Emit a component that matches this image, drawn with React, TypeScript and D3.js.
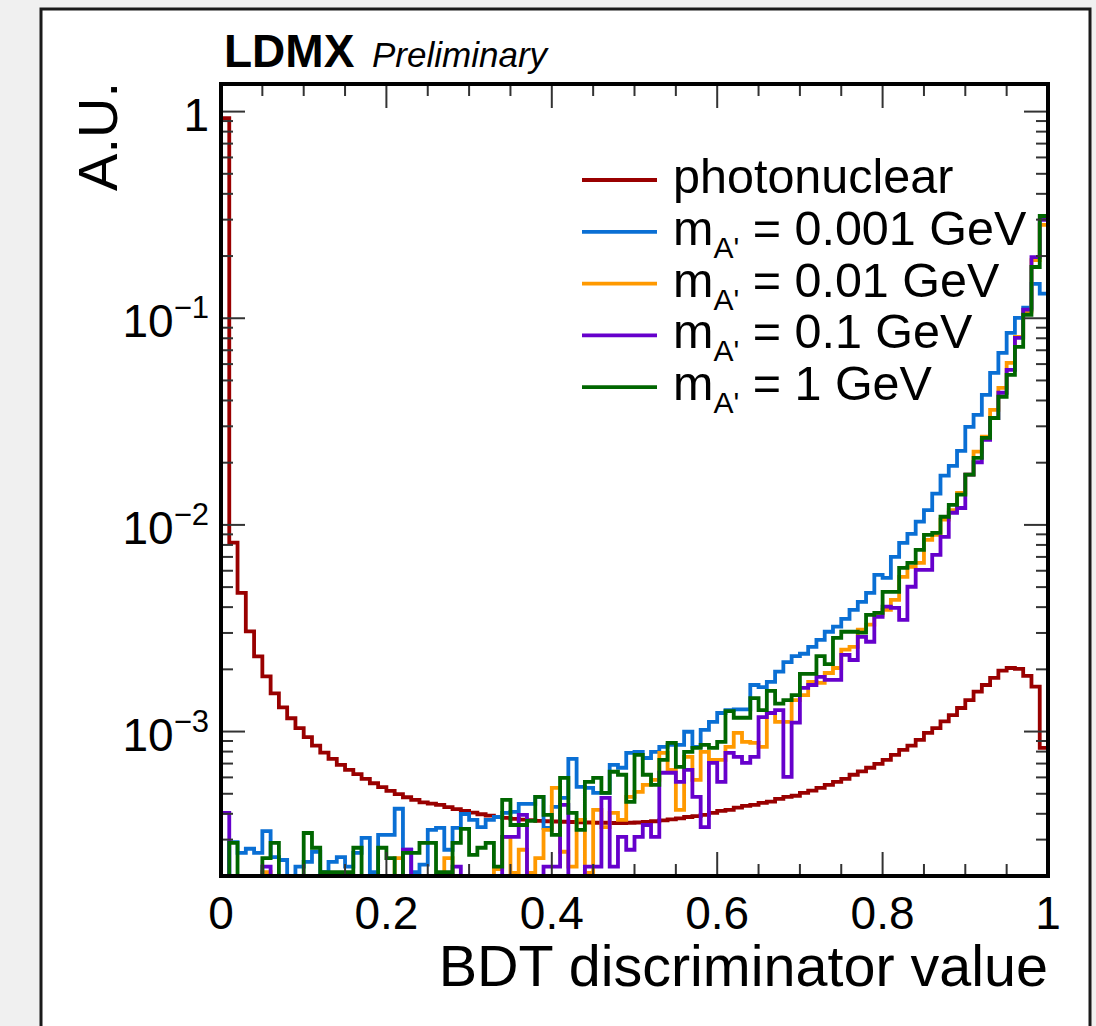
import React from 'react';
import * as d3 from 'd3';

// ---------- data ----------
const binRange: [number, number] = [0, 1];
const nBins = 100;

const photonuclear = [
  0.93, 8.2e-3, 4.69e-3, 3.05e-3, 2.31e-3, 1.85e-3, 1.53e-3, 1.31e-3, 1.16e-3, 1.04e-3,
  9.4e-4, 8.55e-4, 7.91e-4, 7.37e-4, 6.9e-4, 6.53e-4, 6.22e-4, 5.9e-4, 5.62e-4, 5.38e-4,
  5.16e-4, 4.98e-4, 4.81e-4, 4.67e-4, 4.54e-4, 4.48e-4, 4.42e-4, 4.31e-4, 4.21e-4, 4.13e-4,
  4.05e-4, 3.98e-4, 3.92e-4, 3.86e-4, 3.82e-4, 3.78e-4, 3.75e-4, 3.73e-4, 3.7e-4, 3.68e-4,
  3.67e-4, 3.66e-4, 3.65e-4, 3.64e-4, 3.63e-4, 3.62e-4, 3.62e-4, 3.61e-4, 3.61e-4, 3.62e-4,
  3.63e-4, 3.65e-4, 3.68e-4, 3.72e-4, 3.76e-4, 3.8e-4, 3.86e-4, 3.9e-4, 3.95e-4, 4.04e-4,
  4.13e-4, 4.18e-4, 4.28e-4, 4.37e-4, 4.42e-4, 4.52e-4, 4.58e-4, 4.72e-4, 4.83e-4, 4.89e-4,
  5.05e-4, 5.18e-4, 5.34e-4, 5.52e-4, 5.71e-4, 5.9e-4, 6.18e-4, 6.41e-4, 6.68e-4, 6.98e-4,
  7.29e-4, 7.71e-4, 8.15e-4, 8.55e-4, 9.11e-4, 9.85e-4, 1.04e-3, 1.12e-3, 1.2e-3, 1.3e-3,
  1.42e-3, 1.56e-3, 1.68e-3, 1.82e-3, 1.97e-3, 2.03e-3, 2.01e-3, 1.86e-3, 1.65e-3, 8.34e-4,
];

const mA0001 = [
  0, 2.92e-4, 2.59e-4, 2.71e-4, 2.59e-4, 3.3e-4, 2.47e-4, 2.39e-4, 0, 2.22e-4,
  2.34e-4, 2.62e-4, 2.09e-4, 2.34e-4, 2.47e-4, 2.22e-4, 2.59e-4, 3.06e-4, 2.09e-4, 3.16e-4,
  3.16e-4, 4.23e-4, 2.68e-4, 2.09e-4, 2.27e-4, 3.34e-4, 3.42e-4, 2.68e-4, 3.42e-4, 3.99e-4,
  3.74e-4, 3.45e-4, 3.74e-4, 3.86e-4, 4.04e-4, 4.09e-4, 4.47e-4, 4.47e-4, 4.83e-4, 3.42e-4,
  4.32e-4, 4.78e-4, 7.37e-4, 5.4e-4, 5.34e-4, 5.05e-4, 5.05e-4, 6.9e-4, 6.68e-4, 7.88e-4,
  7.97e-4, 7.45e-4, 7.97e-4, 8.43e-4, 8.62e-4, 8.62e-4, 9.98e-4, 8.43e-4, 1.02e-3, 1.115e-3,
  1.23e-3, 1.27e-3, 1.28e-3, 1.28e-3, 1.68e-3, 1.64e-3, 1.74e-3, 1.95e-3, 2.17e-3, 2.32e-3,
  2.38e-3, 2.57e-3, 2.78e-3, 3.04e-3, 3.22e-3, 3.51e-3, 3.88e-3, 4.24e-3, 4.69e-3, 5.73e-3,
  5.54e-3, 7.0e-3, 8.19e-3, 9.05e-3, 1.037e-2, 1.18e-2, 1.416e-2, 1.73e-2, 1.93e-2, 2.28e-2,
  2.98e-2, 3.41e-2, 4.26e-2, 5.44e-2, 6.8e-2, 8.5e-2, 0.1004, 0.1125, 0.1466, 0.1315,
];

const mA001 = [
  0, 0, 0, 0, 0, 2.09e-4, 0, 0, 0, 0,
  0, 0, 0, 0, 0, 0, 0, 0, 0, 0,
  0, 2.44e-4, 0, 0, 0, 0, 0, 2.44e-4, 0, 0,
  0, 0, 0, 2.16e-4, 3.09e-4, 2.07e-4, 2.68e-4, 2.07e-4, 2.44e-4, 3.34e-4,
  5.34e-4, 2.62e-4, 2.22e-4, 3.74e-4, 2.07e-4, 4.18e-4, 3.45e-4, 4.04e-4, 3.74e-4, 4.83e-4,
  5.11e-4, 5.52e-4, 5.84e-4, 7.88e-4, 6.53e-4, 4.18e-4, 7.54e-4, 5.84e-4, 7.97e-4, 7.29e-4,
  7.29e-4, 8.43e-4, 9.86e-4, 8.91e-4, 8.81e-4, 8.43e-4, 1.23e-3, 1.115e-3, 1.115e-3, 1.42e-3,
  1.5e-3, 1.74e-3, 1.72e-3, 1.92e-3, 2.03e-3, 2.49e-3, 2.57e-3, 3.11e-3, 3.29e-3, 3.67e-3,
  3.88e-3, 4.34e-3, 5.6e-3, 6.27e-3, 6.55e-3, 8.46e-3, 8.95e-3, 1.06e-2, 1.18e-2, 1.43e-2,
  1.75e-2, 2.26e-2, 2.67e-2, 3.6e-2, 4.6e-2, 6.08e-2, 8.13e-2, 0.1076, 0.191, 0.283,
];

const mA01 = [
  4.04e-4, 0, 0, 0, 0, 2.22e-4, 0, 0, 0, 0,
  0, 0, 0, 0, 0, 0, 0, 0, 0, 0,
  0, 0, 2.68e-4, 0, 0, 0, 0, 0, 2.22e-4, 0,
  0, 0, 0, 0, 3.09e-4, 3.09e-4, 3.95e-4, 0, 0, 2.22e-4,
  2.22e-4, 4.42e-4, 0, 0, 2.22e-4, 2.22e-4, 4.78e-4, 2.22e-4, 3.09e-4, 2.68e-4,
  3.09e-4, 3.53e-4, 3.09e-4, 6.32e-4, 6.32e-4, 5.71e-4, 6.53e-4, 4.83e-4, 3.45e-4, 7.06e-4,
  5.71e-4, 7.88e-4, 7.54e-4, 7.06e-4, 7.54e-4, 1.174e-3, 1.23e-3, 1.27e-3, 6.04e-4, 1.104e-3,
  1.626e-3, 1.68e-3, 1.84e-3, 1.78e-3, 1.78e-3, 2.35e-3, 2.22e-3, 2.875e-3, 2.72e-3, 3.59e-3,
  4.02e-3, 3.97e-3, 3.47e-3, 5.02e-3, 6.06e-3, 6.06e-3, 7.16e-3, 8.75e-3, 1.145e-2, 1.207e-2,
  1.75e-2, 2.01e-2, 2.58e-2, 3.29e-2, 4.36e-2, 5.62e-2, 8.04e-2, 0.11, 0.1976, 0.299,
];

const mA1 = [
  0, 2.89e-4, 0, 0, 0, 2.44e-4, 2.89e-4, 0, 0, 0,
  3.23e-4, 2.74e-4, 2.09e-4, 2.09e-4, 2.09e-4, 2.09e-4, 2.74e-4, 0, 0, 2.74e-4,
  2.44e-4, 0, 2.59e-4, 2.59e-4, 2.89e-4, 2.89e-4, 2.09e-4, 2.09e-4, 2.89e-4, 3.38e-4,
  2.53e-4, 2.74e-4, 2.89e-4, 2.22e-4, 4.67e-4, 3.53e-4, 3.53e-4, 3.7e-4, 4.83e-4, 3.95e-4,
  3.16e-4, 5.97e-4, 4.04e-4, 3.34e-4, 5.71e-4, 5.97e-4, 5.05e-4, 6.39e-4, 6.18e-4, 4.57e-4,
  7.71e-4, 6.18e-4, 5.52e-4, 7.29e-4, 8.81e-4, 6.75e-4, 7.97e-4, 8.33e-4, 8.62e-4, 8.33e-4,
  8.91e-4, 1.256e-3, 1.166e-3, 1.166e-3, 1.452e-3, 1.27e-3, 1.572e-3, 1.365e-3, 1.42e-3, 1.5e-3,
  1.9e-3, 1.9e-3, 2.32e-3, 2.12e-3, 2.84e-3, 3.04e-3, 3.04e-3, 3.01e-3, 3.67e-3, 3.75e-3,
  4.74e-3, 4.74e-3, 6.2e-3, 6.55e-3, 7.57e-3, 8.95e-3, 9.15e-3, 1.095e-2, 1.25e-2, 1.4e-2,
  1.75e-2, 2.11e-2, 2.64e-2, 3.29e-2, 4.17e-2, 5.32e-2, 7.27e-2, 0.104, 0.177, 0.3125,
];

const seriesNames = ['photonuclear', 'mA0001', 'mA001', 'mA01', 'mA1'];
const seriesMasses = ['', '0.001', '0.01', '0.1', '1'];
const seriesColors = ['#990000', '#0a6fd4', '#ff9900', '#6600cc', '#006600'];
const seriesValues = [photonuclear, mA0001, mA001, mA01, mA1];

const xTickValues = [0, 0.2, 0.4, 0.6, 0.8, 1];
const xTickLabels = ['0', '0.2', '0.4', '0.6', '0.8', '1'];
const yTickValues = [1, 0.1, 0.01, 0.001];
const yTickExponents = ['', '\u22121', '\u22122', '\u22123'];
const yDomain: [number, number] = [2e-4, 1.36];

const FONT = "'Liberation Sans', Arial, Helvetica, sans-serif";

export default function App() {
  const W = 1096, H = 1026;
  const left = 221, right = 1048, top = 84, bottom = 876;

  const x = d3.scaleLinear().domain(binRange).range([left, right]);
  const y = d3.scaleLog().domain(yDomain).range([bottom, top]);
  const binW = (binRange[1] - binRange[0]) / nBins;

  const histPath = (vals: number[]) => {
    const p = d3.path();
    const yv = (v: number) => y(Math.max(v, yDomain[0]));
    p.moveTo(x(binRange[0]), y(yDomain[0]));
    vals.forEach((v, i) => {
      const x0 = x(binRange[0] + i * binW);
      const x1 = x(binRange[0] + (i + 1) * binW);
      p.lineTo(x0, yv(v));
      p.lineTo(x1, yv(v));
    });
    p.lineTo(x(binRange[1]), y(yDomain[0]));
    return p.toString();
  };

  // minor ticks
  const xMinor = d3.range(0, 21).map((i) => i * 0.05).filter((v) => Math.abs(v * 5 - Math.round(v * 5)) > 1e-6);
  const yMinor: number[] = [];
  for (let e = -4; e <= 0; e++) {
    for (let k = 2; k <= 9; k++) {
      const v = k * Math.pow(10, e);
      if (v >= yDomain[0] && v <= yDomain[1]) yMinor.push(v);
    }
  }
  const majLen = 24, minLen = 12;
  const tickStroke = '#333';

  const legendX0 = 582, legendX1 = 657, legendTextX = 673, legendY0 = 180, legendDY = 51.8;

  return (
    <svg width={W} height={H} style={{ position: 'absolute', left: 0, top: 0, background: '#f0f0f0' }} fontFamily={FONT}>
      <rect x={0} y={0} width={W} height={H} fill="#f0f0f0" />
      <rect x={41} y={9} width={1049} height={1040} fill="#ffffff" stroke="#1a1a1a" strokeWidth={3} />

      <defs>
        <clipPath id="plotclip">
          <rect x={left} y={top} width={right - left} height={bottom - top + 2} />
        </clipPath>
      </defs>

      {/* histograms */}
      <g clipPath="url(#plotclip)" fill="none" strokeWidth={3.8} strokeLinejoin="miter">
        {seriesValues.map((vals, i) => (
          <path key={seriesNames[i]} d={histPath(vals)} stroke={seriesColors[i]} />
        ))}
      </g>

      {/* ticks */}
      <g stroke={tickStroke} strokeWidth={2}>
        {xTickValues.map((v) => (
          <g key={'xM' + v}>
            <line x1={x(v)} x2={x(v)} y1={bottom} y2={bottom - majLen} />
            <line x1={x(v)} x2={x(v)} y1={top} y2={top + majLen} />
          </g>
        ))}
        {xMinor.map((v) => (
          <g key={'xm' + v}>
            <line x1={x(v)} x2={x(v)} y1={bottom} y2={bottom - minLen} />
            <line x1={x(v)} x2={x(v)} y1={top} y2={top + minLen} />
          </g>
        ))}
        {yTickValues.map((v) => (
          <g key={'yM' + v}>
            <line x1={left} x2={left + majLen} y1={y(v)} y2={y(v)} />
            <line x1={right} x2={right - majLen} y1={y(v)} y2={y(v)} />
          </g>
        ))}
        {yMinor.map((v) => (
          <g key={'ym' + v}>
            <line x1={left} x2={left + minLen} y1={y(v)} y2={y(v)} />
            <line x1={right} x2={right - minLen} y1={y(v)} y2={y(v)} />
          </g>
        ))}
      </g>

      {/* frame */}
      <rect x={left} y={top} width={right - left} height={bottom - top} fill="none" stroke="#000" strokeWidth={4} />

      {/* x tick labels */}
      {xTickValues.map((v, i) => (
        <text key={'xl' + v} x={x(v)} y={929} fontSize={46} textAnchor="middle" fill="#000">
          {xTickLabels[i]}
        </text>
      ))}

      {/* y tick labels */}
      {yTickValues.map((v, i) => (
        <text key={'yl' + v} x={209} y={y(v) + 19} fontSize={46} textAnchor="end" fill="#000" style={{ whiteSpace: 'pre' }}>
          {yTickExponents[i] === '' ? (
            '1'
          ) : (
            <>
              <tspan>10</tspan>
              <tspan fontSize={31} dy={-19}>{yTickExponents[i]}</tspan>
            </>
          )}
        </text>
      ))}

      {/* axis titles */}
      <text x={right} y={986} fontSize={57.5} textAnchor="end" fill="#000">BDT discriminator value</text>
      <text transform="translate(117,82) rotate(-90)" fontSize={56} textAnchor="end" fill="#000">A.U.</text>

      {/* header */}
      <text x={224} y={67} fontSize={46} fontWeight="bold" fill="#000">LDMX</text>
      <text x={372} y={67} fontSize={35} fontStyle="italic" fill="#000">Preliminary</text>

      {/* legend */}
      {seriesNames.map((name, i) => {
        const ly = legendY0 + i * legendDY;
        return (
          <g key={'leg' + name}>
            <line x1={legendX0} x2={legendX1} y1={ly} y2={ly} stroke={seriesColors[i]} strokeWidth={3.8} />
            <text x={legendTextX} y={ly + 13} fontSize={48.5} fill="#000" style={{ whiteSpace: 'pre' }}>
              {seriesMasses[i] === '' ? (
                'photonuclear'
              ) : (
                <>
                  <tspan>m</tspan>
                  <tspan fontSize={30} dy={13}>A'</tspan>
                  <tspan dy={-13}>{' = ' + seriesMasses[i] + ' GeV'}</tspan>
                </>
              )}
            </text>
          </g>
        );
      })}
    </svg>
  );
}
